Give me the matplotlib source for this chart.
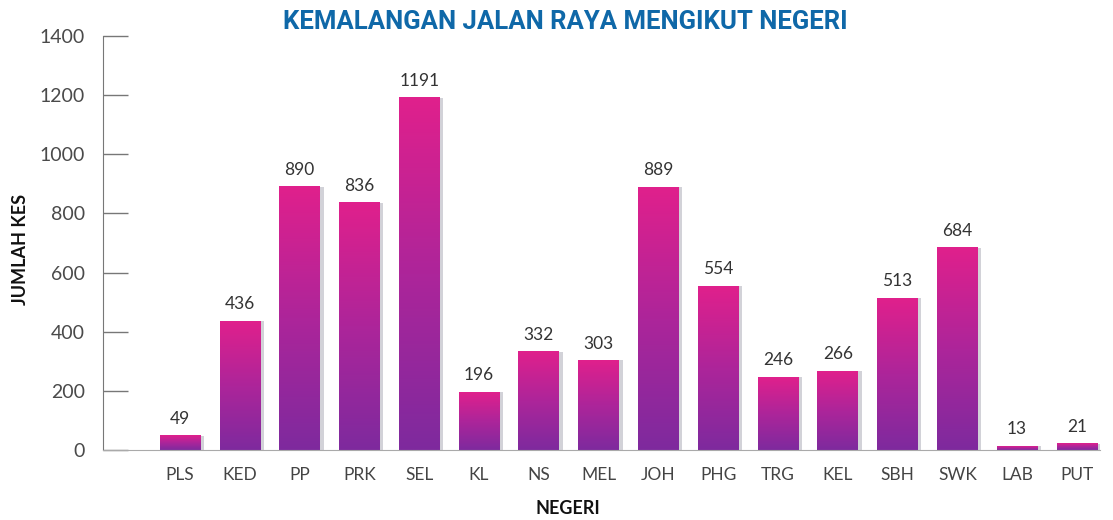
import matplotlib
matplotlib.use("Agg")
import matplotlib.pyplot as plt
import numpy as np
from matplotlib.colors import LinearSegmentedColormap

categories = ["PLS", "KED", "PP", "PRK", "SEL", "KL", "NS", "MEL", "JOH", "PHG", "TRG", "KEL", "SBH", "SWK", "LAB", "PUT"]
values = [49, 436, 890, 836, 1191, 196, 332, 303, 889, 554, 246, 266, 513, 684, 13, 21]
yticks = [0, 200, 400, 600, 800, 1000, 1200, 1400]

plt.rcParams['font.family'] = ['Lato', 'DejaVu Sans']

fig = plt.figure(figsize=(11.13, 5.2), dpi=100)
ax = fig.add_axes([0.0925, 0.1346, 0.8955, 0.7962])

cmap = LinearSegmentedColormap.from_list("pm", ["#7e2a9e", "#ad259a", "#e0208c"])
grad = np.linspace(0, 1, 256).reshape(-1, 1)
w = 0.68
for i, v in enumerate(values):
    ax.bar(i + 0.06, v, width=w, color="#d2d2d8", zorder=1, align="center")
    ax.imshow(grad, cmap=cmap, aspect="auto", origin="lower",
              extent=(i - w / 2, i + w / 2, 0, v), zorder=2, interpolation="bilinear")
    ax.text(i, v + 30, str(v), ha="center", va="bottom", fontsize=12.5, color="#333333")

ax.set_xlim(-1.29, 15.38)
ax.set_ylim(0, 1400)
ax.set_xticks(range(len(categories)))
ax.set_xticklabels(categories, fontsize=12.5, color="#444444")
ax.set_yticks(yticks)
ax.set_yticklabels([str(t) for t in yticks], fontsize=14, color="#4a4a4a")
ax.tick_params(axis="x", length=0, pad=12)
ax.tick_params(axis="y", direction="in", length=18, width=1, color="#777777", pad=13)
for s in ["top", "right"]:
    ax.spines[s].set_visible(False)
ax.spines["left"].set_color("#777777")
ax.spines["bottom"].set_color("#aaaaaa")

fig.text(0.508, 0.957, "KEMALANGAN JALAN RAYA MENGIKUT NEGERI", ha="center", va="center",
         fontsize=18.5, fontweight="bold", color="#0f68a8", family=["Roboto", "DejaVu Sans"])
fig.text(0.018, 0.52, "JUMLAH KES", rotation=90, ha="center", va="center",
         fontsize=13, fontweight="bold", color="#111111")
fig.text(0.51, 0.023, "NEGERI", ha="center", va="center", fontsize=13, fontweight="bold", color="#111111")

fig.savefig("out.png", dpi=100)
